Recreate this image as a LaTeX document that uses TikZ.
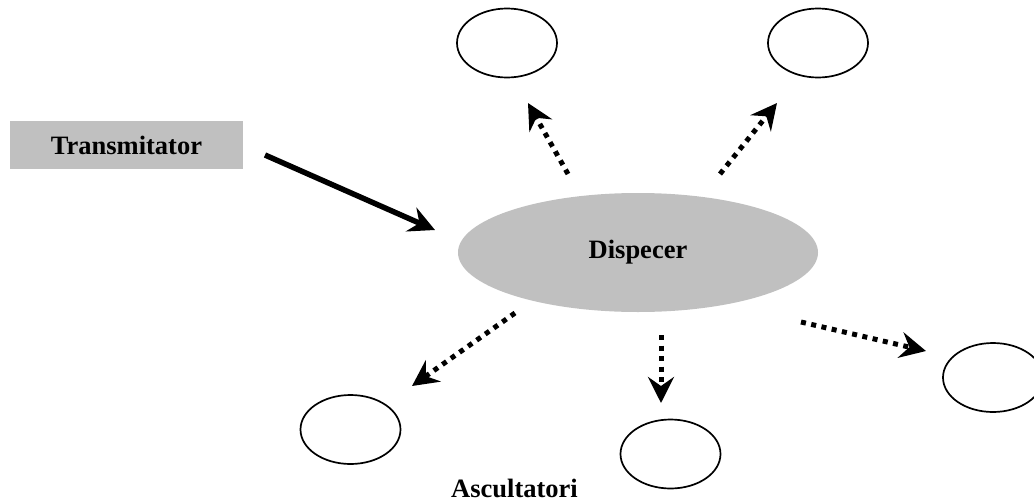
\documentclass[tikz,border=0pt]{standalone}
\usepackage{fontspec}
\setmainfont{Liberation Serif}
\usetikzlibrary{arrows.meta,shapes.geometric}
\definecolor{boxgray}{HTML}{C0C0C0}
\begin{document}
\begin{tikzpicture}[x=1pt,y=-1pt,
  lbl/.style={font=\fontsize{26.5}{30}\selectfont\bfseries, inner sep=0pt},
  listener/.style={draw=black, line width=1.7pt, ellipse, minimum width=100pt, minimum height=69pt, inner sep=0pt},
  headtip/.style={-{Stealth[length=26pt,width=26pt,inset=9pt]}},
  solidarrow/.style={headtip, line width=5.5pt},
  dotarrow/.style={headtip, line width=5pt, dash pattern=on 5pt off 5.5pt}
]
\useasboundingbox (0,0) rectangle (1034,501);
% Transmitator
\node[lbl, fill=boxgray, minimum width=233pt, minimum height=48pt] (tx) at (126.5,145) {Transmitator};
% Dispecer
\node[lbl, fill=boxgray, ellipse, minimum width=360pt, minimum height=119pt] (disp) at (638,252.5) {\raisebox{5pt}{Dispecer}};
% listeners
\node[listener] (l1) at (507,43) {};
\node[listener] (l2) at (818,43) {};
\node[listener] (l3) at (350.5,429.5) {};
\node[listener] (l4) at (670.5,454) {};
\node[listener] (l5) at (993,377.5) {};
\node[lbl] (asc) at (514.5,488) {Ascultatori};
% arrow ends
\coordinate (txs) at (265,155);
\coordinate (txe) at (435,230);
\coordinate (s1) at (568,174);
\coordinate (e1) at (528,103);
\coordinate (s2) at (720,174);
\coordinate (e2) at (777,103);
\coordinate (s3) at (515,313);
\coordinate (e3) at (412,386);
\coordinate (s4) at (661,335);
\coordinate (e4) at (661,403);
\coordinate (s5) at (801,322);
\coordinate (e5) at (926,351);
\draw[solidarrow] (txs) -- (txe);
\draw[dotarrow] (s1) -- (e1);
\draw[dotarrow] (s2) -- (e2);
\draw[dotarrow] (s3) -- (e3);
\draw[dotarrow] (s4) -- (e4);
\draw[dotarrow] (s5) -- (e5);
\end{tikzpicture}
\end{document}
